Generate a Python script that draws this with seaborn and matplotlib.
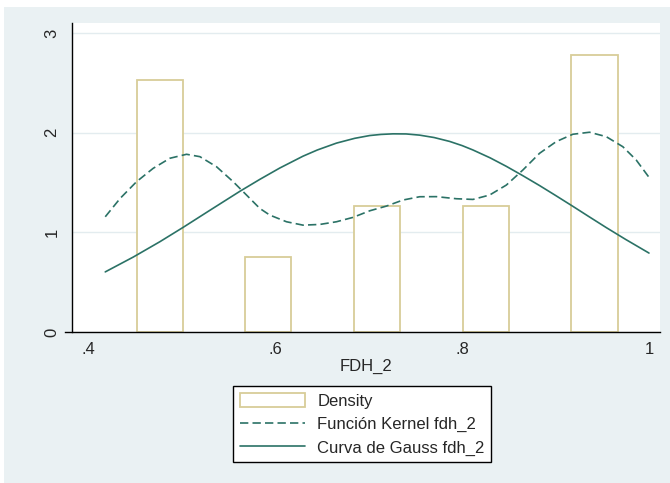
import matplotlib
matplotlib.use("Agg")
import matplotlib.pyplot as plt
from matplotlib.patches import Patch, Rectangle
from matplotlib.lines import Line2D
import seaborn as sns

# histogram of fdh_2 (5 bins, drawn with a gap)
bin_edges = [0.418, 0.5344, 0.6508, 0.7672, 0.8836, 1.0]
bin_centers = [0.4762, 0.5926, 0.7090, 0.8254, 0.9418]
bin_density = [2.525, 0.757, 1.262, 1.262, 2.777]

# kernel density (dashed)
kern_x = [0.418, 0.434, 0.4515, 0.4693, 0.4872, 0.505, 0.5193, 0.5371, 0.5549,
          0.5692, 0.5834, 0.5941, 0.612, 0.6297, 0.6476, 0.6655, 0.6832, 0.7011,
          0.7189, 0.7367, 0.7545, 0.7724, 0.7938, 0.8116, 0.8294, 0.8473, 0.865,
          0.8829, 0.9007, 0.9185, 0.9364, 0.9542, 0.972, 0.9863, 1.0]
kern_y = [1.156, 1.341, 1.508, 1.642, 1.743, 1.783, 1.759, 1.658, 1.508,
          1.374, 1.240, 1.173, 1.106, 1.072, 1.079, 1.106, 1.150, 1.216,
          1.263, 1.324, 1.357, 1.358, 1.337, 1.330, 1.374, 1.474, 1.625,
          1.793, 1.910, 1.984, 2.004, 1.960, 1.859, 1.726, 1.552]

# normal curve (solid)
gauss_x = [0.418, 0.448, 0.4765, 0.5014, 0.53, 0.562, 0.5834, 0.6048, 0.6297,
           0.645, 0.6655, 0.685, 0.7011, 0.713, 0.726, 0.74, 0.7545, 0.77,
           0.7866, 0.80, 0.8116, 0.83, 0.8473, 0.865, 0.8829, 0.90, 0.9185,
           0.935, 0.9542, 0.975, 1.0]
gauss_y = [0.603, 0.752, 0.906, 1.050, 1.221, 1.411, 1.531, 1.645, 1.764,
           1.826, 1.895, 1.943, 1.971, 1.982, 1.988, 1.987, 1.975, 1.951,
           1.912, 1.870, 1.826, 1.747, 1.662, 1.568, 1.469, 1.370, 1.261,
           1.162, 1.048, 0.929, 0.792]

x_ticks = [0.4, 0.6, 0.8, 1.0]
x_ticklabels = [".4", ".6", ".8", "1"]
y_ticks = [0, 1, 2, 3]

bg = "#eaf1f3"
khaki = "#d8cd98"
teal = "#2b7266"

sns.set_style("white")
plt.rcParams["font.family"] = ["Liberation Sans", "DejaVu Sans"]
plt.rcParams["font.size"] = 12

fig = plt.figure(figsize=(6.7, 4.83), dpi=100)
fig.patch.set_facecolor("white")
fig.add_artist(Rectangle((4 / 670, 0), 1, 1 - 7 / 483, transform=fig.transFigure,
                         facecolor=bg, edgecolor="none", zorder=0))

ax = fig.add_axes([72 / 670, 1 - 332 / 483, 588 / 670, 309 / 483])
ax.set_facecolor("white")

sns.histplot(x=bin_centers, weights=bin_density, bins=bin_edges, shrink=0.425,
             stat="count", facecolor="white", edgecolor=khaki, linewidth=1.3,
             ax=ax, zorder=2)
sns.lineplot(x=kern_x, y=kern_y, color=teal, linewidth=1.2, ax=ax, zorder=3)
ax.lines[-1].set_dashes((5, 2.5))
sns.lineplot(x=gauss_x, y=gauss_y, color=teal, linewidth=1.2, ax=ax, zorder=3)

ax.set_xlim(0.3824, 1.0118)
ax.set_ylim(0, 3.10)
ax.set_xticks(x_ticks)
ax.set_xticklabels(x_ticklabels)
ax.set_yticks(y_ticks)
ax.set_yticklabels([str(v) for v in y_ticks], rotation=90, va="center")
ax.yaxis.grid(True, color="#e3ecef", linewidth=1.0)
ax.set_axisbelow(True)

for s in ["top", "right"]:
    ax.spines[s].set_visible(False)
for s in ["left", "bottom"]:
    ax.spines[s].set_color("black")
    ax.spines[s].set_linewidth(1.0)
ax.spines["bottom"].set_bounds(0.3749, 1.0118)

ax.tick_params(axis="x", direction="out", length=4.5, width=0.8, pad=3,
               labelsize=12, color="black")
ax.tick_params(axis="y", direction="out", length=5, width=0.8, pad=4,
               labelsize=12, color="black")
ax.set_xlabel("FDH_2", fontsize=12, labelpad=1)
ax.set_ylabel("")

handles = [
    Patch(facecolor="white", edgecolor=khaki, linewidth=1.3, label="Density"),
    Line2D([], [], color=teal, linewidth=1.2, dashes=(5, 2.5),
           label="Función Kernel fdh_2"),
    Line2D([], [], color=teal, linewidth=1.2, label="Curva de Gauss fdh_2"),
]
leg = fig.legend(handles=handles, loc="upper left",
                 bbox_to_anchor=(233 / 670, 1 - 386 / 483),
                 bbox_transform=fig.transFigure, frameon=True, fancybox=False,
                 edgecolor="black", facecolor="white", framealpha=1,
                 fontsize=12, handlelength=3.9, handleheight=0.95,
                 handletextpad=0.75, labelspacing=0.45, borderpad=0.4,
                 borderaxespad=0)
leg.get_frame().set_linewidth(1.0)

fig.savefig("out.png", dpi=100)
